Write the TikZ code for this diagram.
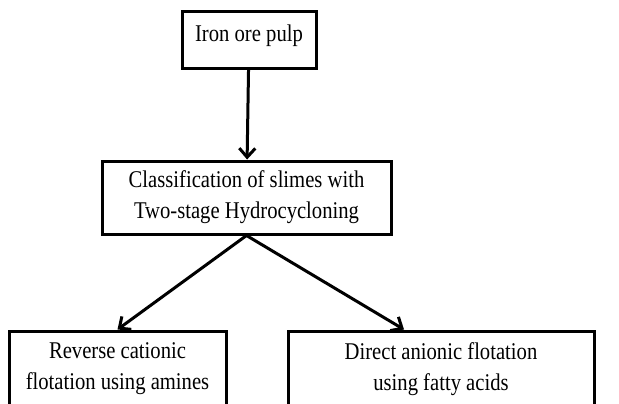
\documentclass[tikz,border=0pt]{standalone}
\usepackage{fontspec}
\setmainfont{Liberation Serif}[FakeStretch=0.86]
\usetikzlibrary{arrows.meta}

\begin{document}
\begin{tikzpicture}[x=1pt, y=-1pt,
  stage/.style={draw, line width=3pt, align=center, inner sep=0pt,
    font=\fontsize{24}{31}\selectfont},
  flow/.style={line width=3pt, -{Straight Barb[length=9pt,width=16pt]}}]
  \useasboundingbox (0,0) rectangle (619,404);
  \clip (0,0) rectangle (619,404);
  \node[stage, minimum width=134, minimum height=57, text depth=14pt] (pulp) at (249,40) {Iron ore pulp};
  \node[stage, minimum width=289, minimum height=73] (classif) at (246.5,197.5)
    {Classification of slimes with\\Two-stage Hydrocycloning};
  % the two lower boxes run past the bottom edge
  \node[stage, minimum width=217, minimum height=76] (cationic) at (117.5,369)
    {Reverse cationic\\flotation using amines};
  \node[stage, minimum width=306, minimum height=76] (anionic) at (441,369)
    {Direct anionic flotation\\using fatty acids};
  \draw[flow] (pulp) -- (classif);
  \draw[flow] (classif.south) -- (cationic.north);
  \draw[flow] (classif.south) -- ([xshift=-37pt]anionic.north);
\end{tikzpicture}
\end{document}
